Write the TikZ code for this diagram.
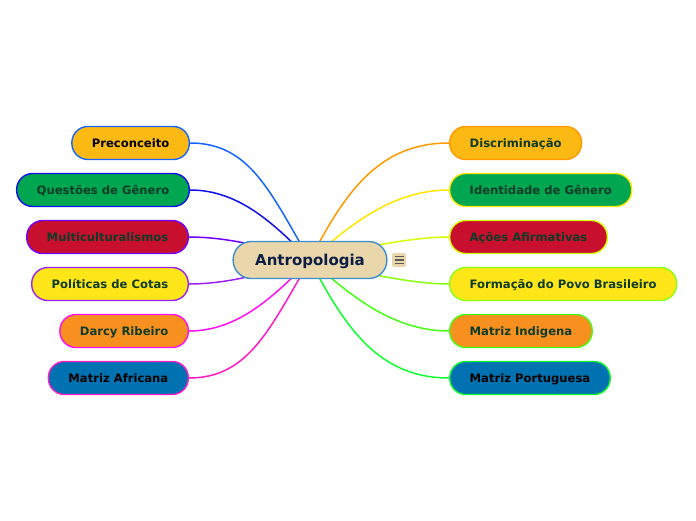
\documentclass[tikz,border=0pt]{standalone}
\usepackage{fontspec}
\setmainfont{DejaVu Sans}
\usepackage{xcolor}
\usetikzlibrary{positioning,backgrounds}
\definecolor{colorGold}{HTML}{FDB913}
\definecolor{colorGreen}{HTML}{00A650}
\definecolor{colorRed}{HTML}{C8102E}
\definecolor{colorYellow}{HTML}{FFE619}
\definecolor{colorOrange}{HTML}{F7901E}
\definecolor{colorBlue}{HTML}{0072B1}
\definecolor{colorRoot}{HTML}{E9D6AA}
\definecolor{edgeRoot}{HTML}{3B8FD0}
\definecolor{textDark}{HTML}{0D3B26}
\definecolor{textRoot}{HTML}{0D1E45}
\definecolor{linePre}{HTML}{1565FF}
\definecolor{lineQue}{HTML}{1010E8}
\definecolor{lineMul}{HTML}{7000FF}
\definecolor{linePol}{HTML}{A020F0}
\definecolor{lineDar}{HTML}{FF10F0}
\definecolor{lineAfr}{HTML}{FF1AC6}
\definecolor{lineDis}{HTML}{FF9900}
\definecolor{lineIde}{HTML}{FFE600}
\definecolor{lineAco}{HTML}{D4FF00}
\definecolor{lineFor}{HTML}{88FF10}
\definecolor{lineInd}{HTML}{44FF10}
\definecolor{linePor}{HTML}{10FF30}

\begin{document}
\begin{tikzpicture}[x=1pt,y=-1pt,
  leaf/.style={draw, rounded corners=16pt, line width=1.4pt, minimum height=33pt, inner xsep=20pt, inner ysep=0pt, text height=8.5pt, text depth=0pt, font=\bfseries\fontsize{11.6}{13}\selectfont, text=textDark},
  root/.style={draw=edgeRoot, fill=colorRoot, rounded corners=18pt, line width=1.4pt, minimum height=37pt, inner xsep=22pt, inner ysep=0pt, text height=11pt, text depth=0pt, font=\bfseries\fontsize{15}{18}\selectfont, text=textRoot},
  link/.style={line width=1.5pt},
  ]
    \useasboundingbox (0,0) rectangle (696,520);
    % central topic
    \node [root] (ant) at (310,260) {Antropologia};
    \node [fill=colorRoot, rounded corners=2pt, minimum size=14pt, inner sep=0pt] (note) at (399,260) {};
    \foreach \dy in {-3.5,0,3.5}
      \draw [line width=1.6pt, black!65] ([xshift=-4.5pt,yshift=\dy pt]note.center) -- ([xshift=4.5pt,yshift=\dy pt]note.center);
    % left branches
    \node [leaf, anchor=east, fill=colorGold, draw=linePre, text=black] (pre) at (190,143) {Preconceito};
    \node [leaf, anchor=east, fill=colorGreen, draw=lineQue] (que) at (190,190) {Questões de Gênero};
    \node [leaf, anchor=east, fill=colorRed, draw=lineMul] (mul) at (189,237) {Multiculturalismos};
    \node [leaf, anchor=east, fill=colorYellow, draw=linePol] (pol) at (189,284) {Políticas de Cotas};
    \node [leaf, anchor=east, fill=colorOrange, draw=lineDar] (dar) at (189,331) {Darcy Ribeiro};
    \node [leaf, anchor=east, fill=colorBlue, draw=lineAfr, text=black] (afr) at (189,378) {Matriz Africana};
    % right branches
    \node [leaf, anchor=west, fill=colorGold, draw=lineDis] (dis) at (449,143) {Discriminação};
    \node [leaf, anchor=west, fill=colorGreen, draw=lineIde] (ide) at (449,190) {Identidade de Gênero};
    \node [leaf, anchor=west, fill=colorRed, draw=lineAco] (aco) at (449,237) {Ações Afirmativas};
    \node [leaf, anchor=west, fill=colorYellow, draw=lineFor] (for) at (449,284) {Formação do Povo Brasileiro};
    \node [leaf, anchor=west, fill=colorOrange, draw=lineInd] (ind) at (449,331) {Matriz Indigena};
    \node [leaf, anchor=west, fill=colorBlue, draw=linePor, text=black] (por) at (449,378) {Matriz Portuguesa};
    \begin{pgfonlayer}{background}
      \draw [link, linePre] (ant.center) .. controls +(-40,-68) and +(60,0) .. (pre.east);
      \draw [link, lineQue] (ant.center) .. controls +(-35,-35) and +(50,0) .. (que.east);
      \draw [link, lineMul] (ant.center) .. controls +(-40,-12) and +(40,0) .. (mul.east);
      \draw [link, linePol] (ant.center) .. controls +(-40,12) and +(40,0) .. (pol.east);
      \draw [link, lineDar] (ant.center) .. controls +(-35,35) and +(50,0) .. (dar.east);
      \draw [link, lineAfr] (ant.center) .. controls +(-40,68) and +(60,0) .. (afr.east);
      \draw [link, lineDis] (ant.center) .. controls +(35,-68) and +(-70,0) .. (dis.west);
      \draw [link, lineIde] (ant.center) .. controls +(35,-30) and +(-60,0) .. (ide.west);
      \draw [link, lineAco] (ant.center) .. controls +(40,-10) and +(-40,0) .. (aco.west);
      \draw [link, lineFor] (ant.center) .. controls +(40,10) and +(-40,0) .. (for.west);
      \draw [link, lineInd] (ant.center) .. controls +(35,30) and +(-60,0) .. (ind.west);
      \draw [link, linePor] (ant.center) .. controls +(35,68) and +(-70,0) .. (por.west);
    \end{pgfonlayer}
\end{tikzpicture}
\end{document}
